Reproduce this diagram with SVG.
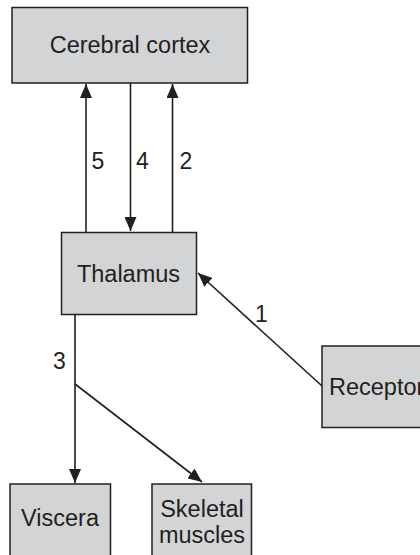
<svg xmlns="http://www.w3.org/2000/svg" width="420" height="555" viewBox="0 0 420 555">
<style>
.box{fill:#d3d4d6;stroke:#231f20;stroke-width:1.5}
.lbl{font-family:"Liberation Sans",Arial,sans-serif;font-size:23.5px;fill:#231f20}
.num{font-family:"Liberation Sans",Arial,sans-serif;font-size:23px;fill:#231f20}
.edge{stroke:#231f20;stroke-width:1.6;fill:none}
</style>
<defs>
<marker id="ah" markerUnits="userSpaceOnUse" markerWidth="15" markerHeight="12" refX="14" refY="6" orient="auto">
<path d="M0,0 L14,6 L0,12 z" fill="#231f20"/>
</marker>
</defs>
<rect width="420" height="555" fill="#ffffff"/>
<g id="edges">
<line class="edge" x1="86" y1="232" x2="86" y2="84" marker-end="url(#ah)"/>
<line class="edge" x1="130.5" y1="83" x2="130.5" y2="231" marker-end="url(#ah)"/>
<line class="edge" x1="172.5" y1="232" x2="172.5" y2="84" marker-end="url(#ah)"/>
<line class="edge" x1="322" y1="386" x2="198" y2="273" marker-end="url(#ah)"/>
<line class="edge" x1="75" y1="314" x2="75" y2="483" marker-end="url(#ah)"/>
<line class="edge" x1="75" y1="384" x2="202" y2="482" marker-end="url(#ah)"/>
<text class="num" x="91.5" y="168.5">5</text>
<text class="num" x="136" y="168.5">4</text>
<text class="num" x="179.5" y="168.5">2</text>
<text class="num" x="255" y="322">1</text>
<text class="num" x="53" y="368.5">3</text>
</g>
<g id="cortex">
<rect class="box" x="12" y="7.5" width="235.5" height="75.5"/>
<text class="lbl" x="130" y="52.5" text-anchor="middle">Cerebral cortex</text>
</g>
<g id="thalamus">
<rect class="box" x="61.5" y="232.5" width="135" height="82"/>
<text class="lbl" x="128.5" y="281.5" text-anchor="middle">Thalamus</text>
</g>
<g id="receptor">
<rect class="box" x="322" y="346" width="110" height="81.5"/>
<text class="lbl" x="329" y="395">Receptor</text>
</g>
<g id="viscera">
<rect class="box" x="10" y="484" width="100.5" height="80"/>
<text class="lbl" x="60" y="526" text-anchor="middle">Viscera</text>
</g>
<g id="skeletal">
<rect class="box" x="152" y="484" width="99.5" height="80"/>
<text class="lbl" x="202" y="516.5" text-anchor="middle">Skeletal</text>
<text class="lbl" x="202" y="542.5" text-anchor="middle">muscles</text>
</g>
</svg>
